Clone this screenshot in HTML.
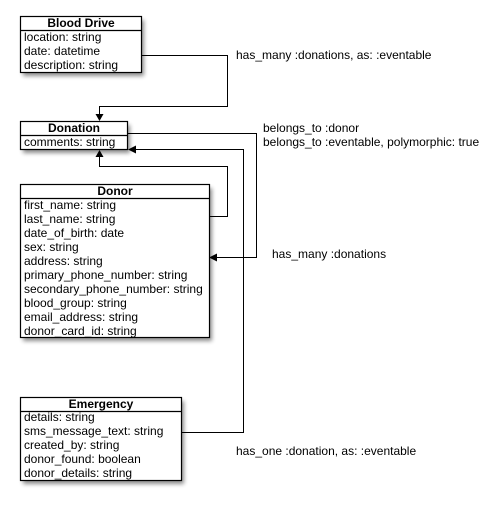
<!DOCTYPE html>
<html><head><style>
body{margin:0;background:#fff;}
svg text{font-family:"Liberation Sans",Arial,sans-serif;font-size:12px;fill:#000;}
.b{font-weight:bold;}
</style></head><body>
<svg width="489" height="504" viewBox="0 0 489 504" xmlns="http://www.w3.org/2000/svg">
<defs><filter id="s" x="-20%" y="-20%" width="150%" height="150%"><feGaussianBlur stdDeviation="2"/></filter></defs>
<g fill="#000" opacity="0.45" filter="url(#s)">
<rect x="23" y="20" width="121" height="56"/>
<rect x="23" y="125" width="107" height="28"/>
<rect x="23" y="188" width="189" height="153"/>
<rect x="23" y="401" width="161" height="83"/>
</g>
<g fill="#fff" stroke="#000" stroke-width="1.2">
<rect x="20.5" y="16.5" width="121" height="56"/>
<line x1="20" y1="30.5" x2="141" y2="30.5"/>
<rect x="20.5" y="121.5" width="107" height="28"/>
<line x1="20" y1="135.5" x2="127" y2="135.5"/>
<rect x="20.5" y="184.5" width="189" height="153"/>
<line x1="20" y1="198.5" x2="209" y2="198.5"/>
<rect x="20.5" y="397.5" width="161" height="83"/>
<line x1="20" y1="411.5" x2="181" y2="411.5"/>
</g>
<g fill="none" stroke="#000" stroke-width="1">
<polyline points="141,55.5 227.5,55.5 227.5,106.5 99.5,106.5 99.5,115"/>
<polyline points="127,133.5 256.5,133.5 256.5,257.5 216,257.5"/>
<polyline points="181,432.5 243.5,432.5 243.5,149.5 135,149.5"/>
<polyline points="209,216.5 227.5,216.5 227.5,166.5 99.5,166.5 99.5,156"/>
</g>
<g fill="#000">
<polygon points="95.5,114 103.5,114 99.5,121"/>
<polygon points="209,257.5 217,253.5 217,261.5"/>
<polygon points="128,149.5 136,145.5 136,153.5"/>
<polygon points="95.5,157 103.5,157 99.5,150"/>
</g>
<text class="b" x="81" y="27" text-anchor="middle">Blood Drive</text>
<text x="24" y="41">location: string</text>
<text x="24" y="55">date: datetime</text>
<text x="24" y="69">description: string</text>
<text class="b" x="74" y="132" text-anchor="middle">Donation</text>
<text x="24" y="146">comments: string</text>
<text class="b" x="115" y="195" text-anchor="middle">Donor</text>
<text x="24" y="209">first_name: string</text>
<text x="24" y="223">last_name: string</text>
<text x="24" y="237">date_of_birth: date</text>
<text x="24" y="251">sex: string</text>
<text x="24" y="265">address: string</text>
<text x="24" y="279">primary_phone_number: string</text>
<text x="24" y="293">secondary_phone_number: string</text>
<text x="24" y="307">blood_group: string</text>
<text x="24" y="321">email_address: string</text>
<text x="24" y="335">donor_card_id: string</text>
<text class="b" x="101" y="408" text-anchor="middle">Emergency</text>
<text x="24" y="421">details: string</text>
<text x="24" y="435">sms_message_text: string</text>
<text x="24" y="449">created_by: string</text>
<text x="24" y="463">donor_found: boolean</text>
<text x="24" y="477">donor_details: string</text>
<text x="236" y="59">has_many :donations, as: :eventable</text>
<text x="263" y="132">belongs_to :donor</text>
<text x="263" y="146">belongs_to :eventable, polymorphic: true</text>
<text x="272" y="258">has_many :donations</text>
<text x="236" y="455">has_one :donation, as: :eventable</text>
</svg>
</body></html>
